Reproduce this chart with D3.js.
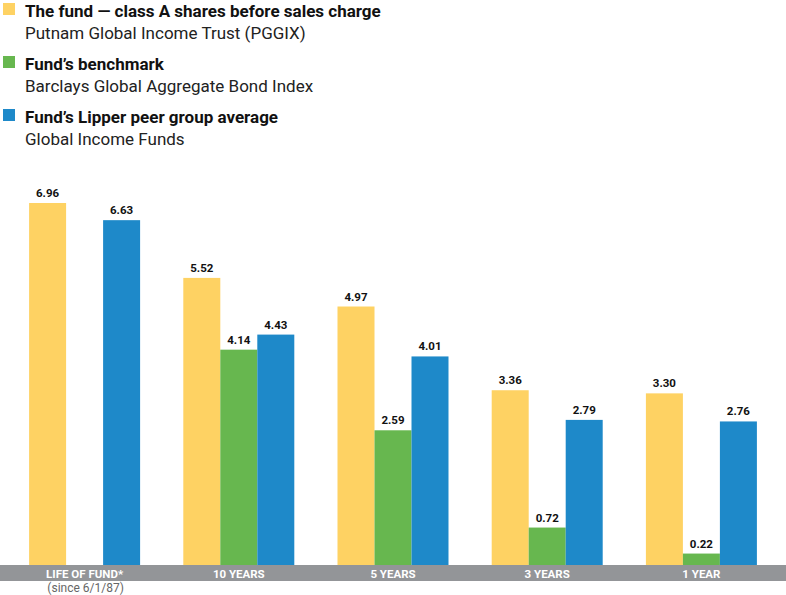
<!DOCTYPE html>
<html><head><meta charset="utf-8">
<script src="https://cdn.jsdelivr.net/npm/d3@7"></script>
<style>body{margin:0;background:#fff;}svg{display:block;font-family:Roboto, "Open Sans", sans-serif;}</style>
</head><body><svg id="c" width="786" height="595"></svg>
<script>
const categories = ["LIFE OF FUND*", "10 YEARS", "5 YEARS", "3 YEARS", "1 YEAR"];
const fundValues = [6.96, 5.52, 4.97, 3.36, 3.30];
const benchmarkValues = [null, 4.14, 2.59, 0.72, 0.22];
const peerValues = [6.63, 4.43, 4.01, 2.79, 2.76];
const seriesNames = ["The fund — class A shares before sales charge", "Fund’s benchmark", "Fund’s Lipper peer group average"];
const seriesSubs = ["Putnam Global Income Trust (PGGIX)", "Barclays Global Aggregate Bond Index", "Global Income Funds"];
const colors = ["#FED263", "#67B74F", "#1E89C9"];
const series = [fundValues, benchmarkValues, peerValues];

const svg = d3.select("#c");
const baseY = 565;
const y = d3.scaleLinear().domain([0, 6.96]).range([baseY, 203]);
const x0 = d3.scaleBand().domain(categories).range([7.5, 778.5]).padding(0);
const x1 = d3.scaleBand().domain([0,1,2]).range([0, 111]).padding(0);

// axis band
svg.append("rect").attr("x",0).attr("y",baseY).attr("width",786).attr("height",16).attr("fill","#939598");

categories.forEach((cat, i) => {
  const gx = x0(cat) + x0.bandwidth()/2 - 55.5;
  series.forEach((vals, s) => {
    const v = vals[i];
    if (v == null) return;
    svg.append("rect").attr("x", gx + x1(s)).attr("y", y(v))
      .attr("width", x1.bandwidth()).attr("height", baseY - y(v)).attr("fill", colors[s]);
    svg.append("text").attr("x", gx + x1(s) + x1.bandwidth()/2).attr("y", y(v) - 6)
      .attr("text-anchor","middle").attr("font-size", 11.5).attr("font-weight", 700).attr("fill","#111")
      .text(v.toFixed(2));
  });
  svg.append("text").attr("x", x0(cat) + x0.bandwidth()/2).attr("y", 577.5)
    .attr("text-anchor","middle").attr("font-size", 11.5).attr("font-weight", 700).attr("fill","#fff")
    .text(cat);
});
svg.append("text").attr("x", x0(categories[0]) + x0.bandwidth()/2 + 1).attr("y", 592)
  .attr("text-anchor","middle").attr("font-size", 12).attr("fill","#666").text("(since 6/1/87)");

// legend
seriesNames.forEach((n, i) => {
  const ly = 3 + i*53;
  svg.append("rect").attr("x",3).attr("y",ly).attr("width",12).attr("height",12).attr("fill",colors[i]);
  svg.append("text").attr("x",25).attr("y",ly+14).attr("font-size",17).attr("font-weight",700).attr("fill","#111").text(n);
  svg.append("text").attr("x",25).attr("y",ly+36).attr("font-size",17).attr("fill","#222").text(seriesSubs[i]);
});
</script></body></html>
